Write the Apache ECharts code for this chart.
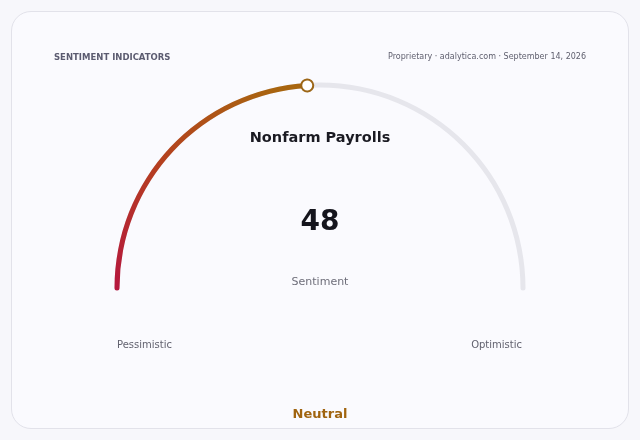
<!DOCTYPE html>
<html>
<head>
<meta charset="utf-8">
<script src="https://cdn.jsdelivr.net/npm/echarts@6/dist/echarts.min.js"></script>
<style>
  html, body { margin: 0; padding: 0; background: #f7f7fb; }
  #card {
    position: absolute; left: 11px; top: 11px; width: 616px; height: 416px;
    background: #fafafe; border: 1px solid #e2e2ea; border-radius: 20px;
  }
  #chart { position: absolute; left: 0; top: 0; width: 640px; height: 440px; }
</style>
</head>
<body>
<div id="card"></div>
<div id="chart"></div>
<script>
// 数据
const indicatorName = 'Nonfarm Payrolls'
const sentimentValue = 48
const scaleMin = 0
const scaleMax = 100
const endLabels = ['Pessimistic', 'Optimistic']
const metricLabel = 'Sentiment'
const verdict = 'Neutral'
const headerLeft = 'SENTIMENT INDICATORS'
const headerRight = 'Proprietary · adalytica.com · September 14, 2026'

const font = 'DejaVu Sans'
const lineWidth = 5
const radius = 203 + lineWidth / 2
const dotSize = 12

const chart = echarts.init(document.getElementById('chart'))

// 两个系列共用的仪表盘基础配置
const gaugeBase = {
  type: 'gauge',
  center: [320, 288],
  radius: radius,
  startAngle: 180,
  endAngle: 0,
  min: scaleMin,
  max: scaleMax,
  anchor: { show: false },
  axisTick: { show: false },
  splitLine: { show: false },
  axisLabel: { show: false }
}

chart.setOption({
  backgroundColor: 'transparent',
  textStyle: { fontFamily: font },
  title: [
    {
      text: headerLeft, left: 49, top: 48,
      textStyle: { fontSize: 8.5, fontWeight: 'bold', color: '#5b5b70', fontFamily: font, letterSpacing: 0.3 }
    },
    {
      text: headerRight, right: 49, top: 48,
      textStyle: { fontSize: 8, fontWeight: 'normal', color: '#5f5f6e', fontFamily: font }
    },
    {
      text: metricLabel, left: 'center', top: 272,
      textStyle: { fontSize: 11, fontWeight: 'normal', color: '#6e6e7a', fontFamily: font }
    },
    {
      text: verdict, left: 'center', top: 403,
      textStyle: { fontSize: 13, fontWeight: 'bold', color: '#a0640f', fontFamily: font }
    }
  ],
  graphic: [
    {
      type: 'text', left: 117, top: 340,
      style: { text: endLabels[0], fontSize: 10, fill: '#62626f', fontFamily: font }
    },
    {
      type: 'text', right: 118, top: 340,
      style: { text: endLabels[1], fontSize: 10, fill: '#62626f', fontFamily: font }
    }
  ],
  series: [
    {
      ...gaugeBase,
      z: 2,
      axisLine: {
        roundCap: true,
        lineStyle: { width: lineWidth, color: [[1, '#e6e6ec']] }
      },
      progress: {
        show: true,
        roundCap: true,
        width: lineWidth,
        itemStyle: {
          color: new echarts.graphic.LinearGradient(0, 1, 0.8, 0, [
            { offset: 0, color: '#b5163e' },
            { offset: 0.5, color: '#b5401f' },
            { offset: 1, color: '#a8650f' }
          ])
        }
      },
      pointer: { show: false },
      title: {
        offsetCenter: [0, -150],
        fontSize: 14.5,
        fontWeight: 'bold',
        color: '#1a1a22',
        fontFamily: font
      },
      detail: {
        offsetCenter: [0, -65],
        fontSize: 28,
        fontWeight: 'bold',
        color: '#15151d',
        fontFamily: font,
        formatter: '{value}'
      },
      data: [{ value: sentimentValue, name: indicatorName }]
    },
    {
      // 端点圆点，放在进度条上层
      ...gaugeBase,
      z: 5,
      axisLine: { show: false },
      progress: { show: false },
      pointer: {
        show: true,
        icon: 'circle',
        width: dotSize,
        length: dotSize,
        offsetCenter: [0, -(radius - lineWidth / 2 - dotSize / 2)],
        itemStyle: { color: '#ffffff', borderColor: '#9c6617', borderWidth: 2 }
      },
      title: { show: false },
      detail: { show: false },
      data: [{ value: sentimentValue }]
    }
  ]
})
</script>
</body>
</html>
